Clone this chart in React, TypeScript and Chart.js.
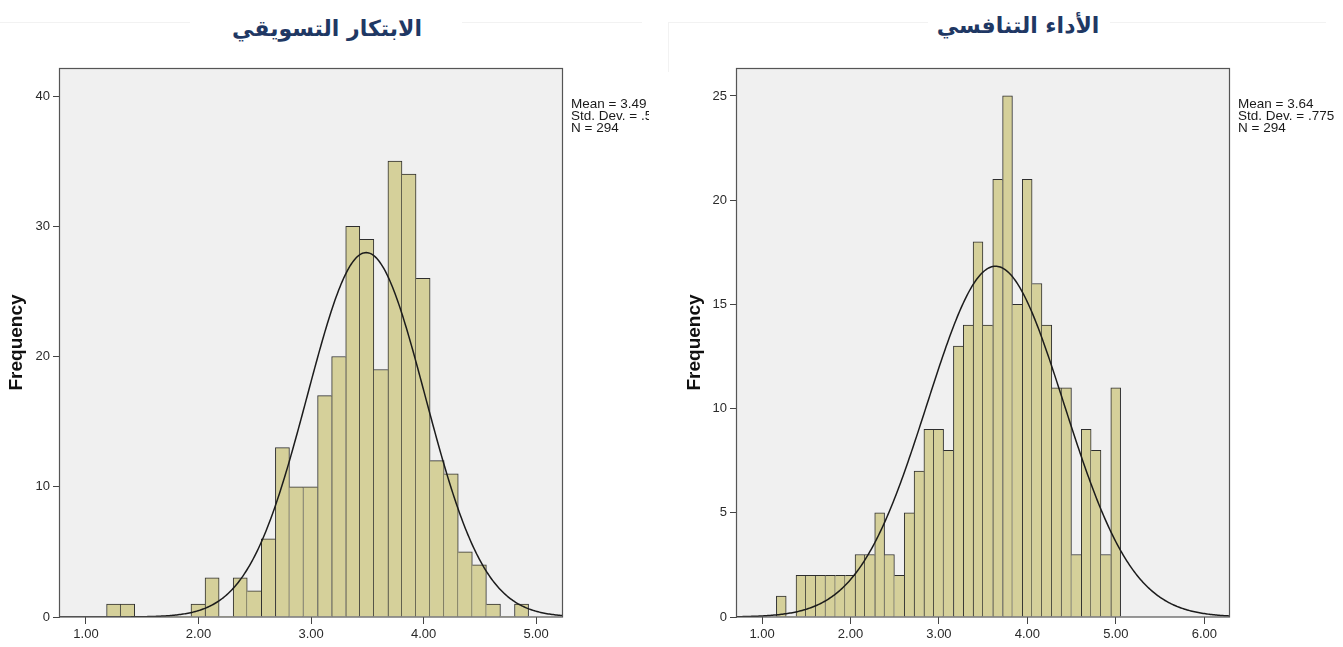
import React, { useEffect, useRef } from "react";
import { Chart, registerables } from "chart.js";

Chart.register(...registerables);

// ---------- data ----------
const leftTitle = "الابتكار التسويقي";
const rightTitle = "الأداء التنافسي";

const leftBinStart = 1.183;
const leftBinWidth = 0.125;
const leftCounts = [1, 1, 0, 0, 0, 0, 1, 3, 0, 3, 2, 6, 13, 10, 10, 17, 20, 30, 29, 19, 35, 34, 26, 12, 11, 5, 4, 1, 0, 1];
const leftMean = 3.49;
const leftSd = 0.524;
const leftN = 294;
const leftStats = ["Mean = 3.49", "Std. Dev. = .524", "N = 294"];
const leftXTicks = [1, 2, 3, 4, 5];
const leftYTicks = [0, 10, 20, 30, 40];
const leftXRange = [0.769, 5.23];
const leftYMax = 42.15;

const rightBinStart = 1.162;
const rightBinWidth = 0.1112;
const rightCounts = [1, 0, 2, 2, 2, 2, 2, 2, 3, 3, 5, 3, 2, 5, 7, 9, 9, 8, 13, 14, 18, 14, 21, 25, 15, 21, 16, 14, 11, 11, 3, 9, 8, 3, 11];
const rightMean = 3.64;
const rightSd = 0.775;
const rightN = 294;
const rightStats = ["Mean = 3.64", "Std. Dev. = .775", "N = 294"];
const rightXTicks = [1, 2, 3, 4, 5, 6];
const rightYTicks = [0, 5, 10, 15, 20, 25];
const rightXRange = [0.717, 6.279];
const rightYMax = 26.34;

// ---------- styles ----------
const BAR_FILL = "#d5d09a";
const BAR_EDGE = "#2e2e2e";
const PLOT_BG = "#f0f0f0";
const FRAME = "#555555";
const TICK_FONT = { family: "'Liberation Sans', Arial, sans-serif", size: 13 };
const TICK_COLOR = "#2a2a2a";

type Cfg = {
  canvasLeft: number;
  canvasWidth: number;
  padRight: number;
  yAxisWidth: number;
  binStart: number;
  binWidth: number;
  counts: number[];
  mean: number;
  sd: number;
  n: number;
  stats: string[];
  xTicks: number[];
  yTicks: number[];
  xRange: number[];
  yMax: number;
};

function Histogram({ cfg }: { cfg: Cfg }) {
  const ref = useRef<HTMLCanvasElement>(null);
  useEffect(() => {
    const canvas = ref.current!;
    const counts = cfg.counts;
    const bars = counts.map((c, i) => ({ x: cfg.binStart + (i + 0.5) * cfg.binWidth, y: c }));
    const peak = (cfg.n * cfg.binWidth) / (cfg.sd * Math.sqrt(2 * Math.PI));
    const curve: { x: number; y: number }[] = [];
    const steps = 400;
    for (let i = 0; i <= steps; i++) {
      const x = cfg.xRange[0] + ((cfg.xRange[1] - cfg.xRange[0]) * i) / steps;
      const z = (x - cfg.mean) / cfg.sd;
      curve.push({ x, y: peak * Math.exp(-0.5 * z * z) });
    }

    const framePlugin = {
      id: "frame",
      beforeDraw(chart: any) {
        const { ctx, chartArea } = chart;
        ctx.save();
        ctx.fillStyle = PLOT_BG;
        ctx.fillRect(chartArea.left, chartArea.top, chartArea.right - chartArea.left, chartArea.bottom - chartArea.top);
        ctx.restore();
      },
      afterDraw(chart: any) {
        const { ctx, chartArea } = chart;
        ctx.save();
        ctx.strokeStyle = FRAME;
        ctx.lineWidth = 1.2;
        ctx.strokeRect(
          Math.round(chartArea.left) - 0.5,
          Math.round(chartArea.top) + 0.5,
          Math.round(chartArea.right - chartArea.left) + 1,
          Math.round(chartArea.bottom - chartArea.top) - 0.5
        );
        ctx.fillStyle = "#1a1a1a";
        ctx.font = "13.5px 'Liberation Sans', Arial, sans-serif";
        ctx.textBaseline = "middle";
        ctx.textAlign = "left";
        cfg.stats.forEach((s, i) => {
          ctx.fillText(s, chartArea.right + 9, 104 + i * 12);
        });
        ctx.restore();
      },
    };

    const chart = new Chart(canvas, {
      type: "bar",
      data: {
        datasets: [
          {
            type: "line",
            data: curve,
            borderColor: "#1c1c1c",
            borderWidth: 1.5,
            pointRadius: 0,
            tension: 0,
            fill: false,
            order: 0,
          } as any,
          {
            type: "bar",
            data: bars,
            backgroundColor: BAR_FILL,
            borderColor: BAR_EDGE,
            borderWidth: (ctx: any) => {
              const i = ctx.dataIndex;
              const c = counts[i];
              if (!c) return 0;
              const left = i === 0 || counts[i - 1] < c ? 1 : 0;
              const right = i === counts.length - 1 || counts[i + 1] <= c ? 1 : 0;
              return { top: 1, left, right, bottom: 0 };
            },
            barPercentage: 1,
            categoryPercentage: 1,
            order: 1,
          } as any,
        ],
      },
      options: {
        responsive: false,
        animation: false,
        devicePixelRatio: 1,
        layout: { padding: { top: 68, right: cfg.padRight, left: 0, bottom: 0 } },
        plugins: {
          legend: { display: false },
          tooltip: { enabled: false },
        },
        scales: {
          x: {
            type: "linear",
            offset: false,
            min: cfg.xRange[0],
            max: cfg.xRange[1],
            afterBuildTicks: (s: any) => {
              s.ticks = cfg.xTicks.map((v) => ({ value: v }));
            },
            afterFit: (s: any) => {
              s.height = 30;
            },
            grid: {
              offset: false,
              drawOnChartArea: false,
              drawTicks: true,
              tickLength: 7,
              color: "#444",
              tickColor: "#444",
            },
            border: { display: false },
            ticks: {
              font: TICK_FONT,
              color: TICK_COLOR,
              padding: 3,
              autoSkip: false,
              maxRotation: 0,
              callback: (v: any) => Number(v).toFixed(2),
            },
          },
          y: {
            min: 0,
            max: cfg.yMax,
            afterBuildTicks: (s: any) => {
              s.ticks = cfg.yTicks.map((v) => ({ value: v }));
            },
            afterFit: (s: any) => {
              s.width = cfg.yAxisWidth;
            },
            title: {
              display: true,
              text: "Frequency",
              color: "#111",
              font: { family: "'Liberation Sans', Arial, sans-serif", size: 19, weight: "bold" },
              padding: { top: 5, bottom: 0 },
            },
            grid: { drawOnChartArea: false, drawTicks: true, tickLength: 7, color: "#444", tickColor: "#444" },
            border: { display: false },
            ticks: {
              font: TICK_FONT,
              color: TICK_COLOR,
              padding: 3,
              autoSkip: false,
              callback: (v: any) => String(v),
            },
          },
        },
      } as any,
      plugins: [framePlugin],
    });
    return () => chart.destroy();
  }, [cfg]);
  return (
    <canvas
      ref={ref}
      width={cfg.canvasWidth}
      height={647}
      style={{ position: "absolute", left: cfg.canvasLeft, top: 0, width: cfg.canvasWidth, height: 647 }}
    />
  );
}

const leftCfg: Cfg = {
  canvasLeft: 0,
  canvasWidth: 649,
  padRight: 649 - 562,
  yAxisWidth: 60,
  binStart: leftBinStart,
  binWidth: leftBinWidth,
  counts: leftCounts,
  mean: leftMean,
  sd: leftSd,
  n: leftN,
  stats: leftStats,
  xTicks: leftXTicks,
  yTicks: leftYTicks,
  xRange: leftXRange,
  yMax: leftYMax,
};

const rightCfg: Cfg = {
  canvasLeft: 678,
  canvasWidth: 1343 - 678,
  padRight: 1343 - 1229,
  yAxisWidth: 59,
  binStart: rightBinStart,
  binWidth: rightBinWidth,
  counts: rightCounts,
  mean: rightMean,
  sd: rightSd,
  n: rightN,
  stats: rightStats,
  xTicks: rightXTicks,
  yTicks: rightYTicks,
  xRange: rightXRange,
  yMax: rightYMax,
};

const titleStyle: React.CSSProperties = {
  position: "absolute",
  textAlign: "center",
  fontFamily: "'DejaVu Sans', sans-serif",
  fontWeight: "bold",
  fontSize: 22,
  lineHeight: "40px",
  color: "#1f3864",
  direction: "rtl",
  whiteSpace: "nowrap",
};

const faint: React.CSSProperties = { position: "absolute", background: "#f2f2f2" };

export default function App() {
  return (
    <div
      style={{
        position: "absolute",
        left: 0,
        top: 0,
        width: 1343,
        height: 647,
        background: "#ffffff",
        overflow: "hidden",
      }}
    >
      <div style={{ ...faint, left: 0, top: 22, width: 190, height: 1 }} />
      <div style={{ ...faint, left: 462, top: 22, width: 180, height: 1 }} />
      <div style={{ ...faint, left: 668, top: 22, width: 260, height: 1 }} />
      <div style={{ ...faint, left: 1110, top: 22, width: 216, height: 1 }} />
      <div style={{ ...faint, left: 668, top: 22, width: 1, height: 50 }} />
      <div style={{ ...titleStyle, left: 0, width: 654, top: 9 }}>{leftTitle}</div>
      <div style={{ ...titleStyle, left: 693, width: 650, top: 6 }}>{rightTitle}</div>
      <Histogram cfg={leftCfg} />
      <Histogram cfg={rightCfg} />
    </div>
  );
}
